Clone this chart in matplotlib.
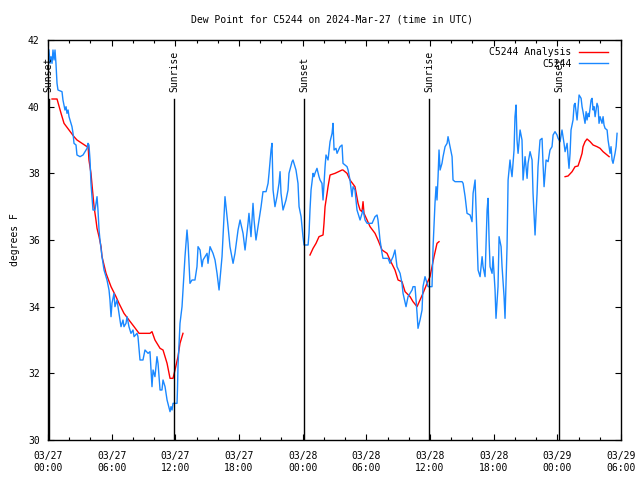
import matplotlib
matplotlib.use("Agg")
import matplotlib.pyplot as plt
from matplotlib.ticker import MultipleLocator

plt.rcParams['font.family'] = ['DejaVu Sans Mono']

# hours since 2024-03-27 00:00 UTC
obs_hours = [0.09, 0.19, 0.28, 0.38, 0.47, 0.57, 0.66, 0.75, 0.85, 0.94, 1.32, 1.41, 1.60, 1.70, 1.79,
             1.89, 1.98, 2.17, 2.26, 2.36, 2.45, 2.64, 2.73, 3.02, 3.30, 3.49, 3.68, 3.77, 3.86, 3.96,
             4.05, 4.15, 4.24, 4.43, 4.62, 4.71, 4.81, 4.90, 5.09, 5.28, 5.56, 5.75, 5.84, 5.94, 6.03,
             6.22, 6.31, 6.50, 6.69, 6.88, 7.07, 7.16, 7.35, 7.45, 7.63, 7.82, 8.01, 8.11, 8.39, 8.48,
             8.67, 8.95, 9.14, 9.43, 9.61, 9.80, 9.90, 10.08, 10.27, 10.37, 10.56, 10.74, 10.84, 11.03,
             11.22, 11.50, 11.59, 11.69, 11.78, 12.16, 12.20, 12.25, 12.44, 12.63, 12.72, 12.91, 13.10,
             13.20, 13.38, 13.57, 13.85, 14.04, 14.14, 14.33, 14.51, 14.61, 14.80, 14.99, 15.08, 15.27,
             15.55, 15.74, 15.93, 16.12, 16.40, 16.49, 16.68, 16.78, 16.97, 17.15, 17.44, 17.62, 17.91,
             18.10, 18.38, 18.57, 18.85, 18.94, 19.13, 19.32, 19.42, 19.60, 19.79, 20.08, 20.26, 20.55,
             20.74, 20.83, 21.02, 21.11, 21.21, 21.39, 21.58, 21.77, 21.87, 21.96, 22.15, 22.43, 22.62,
             22.71, 23.00, 23.09, 23.37, 23.56, 23.66, 23.85, 24.03, 24.13, 24.51, 24.60, 24.69, 24.79,
             24.98, 25.07, 25.16, 25.35, 25.54, 25.64, 25.82, 25.92, 26.11, 26.20, 26.39, 26.58, 26.77,
             26.86, 26.96, 27.14, 27.24, 27.52, 27.71, 27.80, 28.18, 28.28, 28.46, 28.65, 28.75, 28.93,
             29.12, 29.41, 29.59, 29.69, 29.88, 30.07, 30.54, 30.82, 31.01, 31.10, 31.29, 31.48, 31.57,
             32.05, 32.23, 32.52, 32.70, 32.89, 33.18, 33.36, 33.46, 33.74, 33.93, 34.31, 34.40, 34.59,
             34.78, 34.87, 35.06, 35.25, 35.34, 35.53, 35.72, 35.82, 36.19, 36.29, 36.47, 36.57, 36.66,
             36.76, 36.85, 36.95, 37.13, 37.23, 37.42, 37.61, 37.70, 37.89, 38.08, 38.17, 38.36, 39.02,
             39.12, 39.31, 39.49, 39.78, 39.96, 40.06, 40.25, 40.44, 40.53, 40.72, 40.91, 41.00, 41.19,
             41.38, 41.47, 41.57, 41.66, 41.85, 41.94, 42.13, 42.22, 42.41, 42.51, 42.70, 42.79, 42.98,
             43.07, 43.26, 43.36, 43.54, 43.64, 43.73, 43.92, 44.01, 44.11, 44.20, 44.30, 44.49, 44.67,
             44.77, 44.96, 45.15, 45.24, 45.43, 45.62, 45.71, 45.90, 46.09, 46.18, 46.37, 46.56, 46.65,
             46.75, 46.94, 47.13, 47.31, 47.50, 47.60, 47.78, 47.97, 48.07, 48.26, 48.44, 48.54, 48.63,
             48.73, 48.92, 49.01, 49.10, 49.20, 49.29, 49.48, 49.58, 49.67, 49.86, 49.95, 50.05, 50.24,
             50.33, 50.42, 50.61, 50.71, 50.80, 50.90, 50.99, 51.18, 51.27, 51.37, 51.46, 51.56, 51.74,
             51.84, 51.93, 52.03, 52.21, 52.31, 52.40, 52.50, 52.69, 52.78, 52.97, 53.06, 53.16, 53.25,
             53.44, 53.54, 53.63]
obs_dewpt = [41.7, 41.3, 41.5, 41.3, 41.7, 41.4, 41.7, 41.3, 40.7, 40.5, 40.45, 40.2, 39.9, 40.0, 39.8,
             39.9, 39.7, 39.5, 39.4, 39.2, 38.9, 38.85, 38.55, 38.5, 38.55, 38.65, 38.75, 38.9, 38.85, 38.4,
             37.7, 37.3, 36.9, 36.9, 37.3, 36.9, 36.3, 36.0, 35.5, 35.1, 34.8, 34.5, 34.2, 33.7, 34.1,
             34.4, 34.0, 34.2, 33.8, 33.4, 33.6, 33.4, 33.5, 33.7, 33.4, 33.2, 33.3, 33.1, 33.2, 33.1,
             32.4, 32.4, 32.7, 32.6, 32.65, 31.6, 32.1, 31.9, 32.5, 32.3, 31.5, 31.5, 31.8, 31.6,
             31.2, 30.85, 31.0, 30.9, 31.1, 31.1, 31.5, 32.2, 33.5, 34.0, 34.5, 35.5, 36.3,
             35.9, 34.7, 34.8, 34.8, 35.2, 35.8, 35.7, 35.2, 35.4, 35.5, 35.6, 35.3, 35.8,
             35.6, 35.4, 35.0, 34.5, 35.5, 36.1, 37.3, 37.0, 36.4, 35.8, 35.3, 35.6, 36.3,
             36.6, 36.2, 35.7, 36.5, 36.8, 36.1, 37.1, 36.6, 36.0, 36.4, 37.0, 37.45, 37.45,
             37.7, 38.0, 38.7, 38.9, 37.5, 37.0, 37.3, 37.7, 38.05, 37.4, 36.9, 37.2, 37.5,
             38.0, 38.35, 38.4, 38.1, 37.7, 37.0, 36.7, 36.1, 35.85, 35.85, 36.2, 36.9, 37.5,
             38.0, 37.9, 38.0, 38.15, 37.9, 37.8, 37.7, 37.2, 38.2, 38.55, 38.4, 38.95, 39.2,
             39.5, 38.7, 38.75, 38.6, 38.8, 38.85, 38.3, 38.2, 38.1, 37.8, 37.3, 37.6, 37.5,
             36.9, 36.6, 36.8, 36.9, 36.6, 36.5, 36.5, 36.7, 36.75, 36.6, 36.0, 35.6, 35.45,
             35.45, 35.3, 35.5, 35.7, 35.2, 35.0, 34.7, 34.4, 34.0, 34.3, 34.5, 34.6, 34.6,
             33.8, 33.35, 33.6, 33.9, 34.6, 34.9, 34.7, 34.6, 34.6, 35.8, 37.1, 37.6, 37.2,
             37.9, 38.7, 38.1, 38.3, 38.5, 38.8, 38.9, 39.1, 38.8, 38.5, 37.8, 37.75, 37.75,
             37.7, 37.3, 36.8, 36.75, 36.55, 37.4, 37.8, 35.9, 35.1, 34.9, 35.5, 35.2, 34.9,
             36.9, 37.25, 36.0, 35.2, 35.0, 35.5, 34.5, 33.65, 34.6, 36.1, 35.8, 35.2, 34.3,
             33.65, 35.8, 37.8, 38.4, 38.1, 37.9, 38.7, 39.7, 40.05, 39.0, 38.6, 39.3, 39.0,
             37.8, 38.5, 37.85, 38.3, 38.65, 38.4, 37.4, 36.15, 37.4, 38.2, 39.0, 39.05, 38.3,
             37.6, 38.4, 38.35, 38.7, 38.8, 39.15, 39.25, 39.15, 39.05, 38.95, 39.3, 39.1, 38.9,
             38.65, 38.9, 38.5, 38.15, 38.6, 39.3, 39.6, 40.05, 40.1, 39.6, 39.95, 40.35, 40.25,
             40.0, 39.85, 39.5, 39.85, 39.6, 39.8, 39.7, 40.2, 40.25, 39.9, 40.0, 39.7, 40.1,
             40.0, 39.5, 39.7, 39.5, 39.7, 39.45, 39.35, 39.3, 39.0, 38.6, 38.8, 38.4, 38.3,
             38.6, 38.8, 39.2]

# analysis segments (gaps between)
ana1_hours = [0.38, 0.85, 1.23, 1.51, 1.98, 2.45, 2.73, 3.68, 3.77, 3.86, 4.05, 4.15, 4.34, 4.52, 4.62,
              4.81, 5.00, 5.09, 5.47, 5.94, 6.41, 6.69, 7.16, 7.63, 8.11, 8.58, 9.61, 9.80, 10.08,
              10.56, 10.84, 11.22, 11.50, 11.78, 11.97, 12.25, 12.44, 12.72]
ana1_dewpt = [40.23, 40.23, 39.8, 39.5, 39.3, 39.1, 39.0, 38.8, 38.85, 38.4, 38.0, 37.65, 37.0, 36.6, 36.35,
              36.1, 35.8, 35.5, 35.0, 34.6, 34.3, 34.1, 33.8, 33.6, 33.4, 33.2, 33.2, 33.25, 33.0,
              32.75, 32.7, 32.3, 31.85, 31.85, 32.1, 32.5, 32.9, 33.2]
ana2_hours = [24.69, 24.98, 25.26, 25.54, 25.92, 26.01, 26.11, 26.30, 26.39, 26.58, 27.05, 27.71, 27.80,
              28.18, 28.46, 28.93, 29.22, 29.41, 29.59, 29.69, 29.78, 30.07, 30.35, 30.82, 31.10, 31.48,
              31.95, 32.23, 32.70, 32.99, 33.36, 33.65, 34.12, 34.40, 34.78, 35.06, 35.34, 35.72, 36.00,
              36.19, 36.38, 36.66, 36.85]
ana2_dewpt = [35.55, 35.75, 35.9, 36.1, 36.15, 36.5, 37.0, 37.4, 37.6, 37.95, 38.0, 38.1, 38.1,
              38.0, 37.8, 37.6, 37.1, 36.9, 36.85, 37.15, 36.8, 36.6, 36.4, 36.2, 36.0, 35.7,
              35.6, 35.4, 35.1, 34.8, 34.75, 34.45, 34.3, 34.15, 34.0, 34.2, 34.4, 34.7, 34.9,
              35.2, 35.5, 35.9, 35.95]
ana3_hours = [48.73, 49.01, 49.39, 49.67, 49.95, 50.14, 50.33, 50.42, 50.61, 50.80, 51.09, 51.37, 51.74,
              52.03, 52.31, 52.69, 52.88]
ana3_dewpt = [37.9, 37.92, 38.05, 38.2, 38.22, 38.4, 38.6, 38.8, 38.95, 39.03, 38.95, 38.85, 38.8,
              38.75, 38.65, 38.55, 38.5]

sun_hours = [0.08, 11.88, 24.13, 35.9, 48.16]
sun_labels = ["Sunset", "Sunrise", "Sunset", "Sunrise", "Sunset"]

xtick_hours = [0, 6, 12, 18, 24, 30, 36, 42, 48, 54]
xtick_labels = ["03/27\n00:00", "03/27\n06:00", "03/27\n12:00", "03/27\n18:00", "03/28\n00:00",
                "03/28\n06:00", "03/28\n12:00", "03/28\n18:00", "03/29\n00:00", "03/29\n06:00"]
ytick_vals = [30, 32, 34, 36, 38, 40, 42]

RED = '#ff0000'
BLUE = '#1a88ff'
FS = 7

fig = plt.figure(figsize=(6.4, 4.8), dpi=100)
ax = fig.add_axes([48/640, 40/480, 573/640, 400/480])
ax.set_xlim(0, 54)
ax.set_ylim(30, 42)

ax.plot(ana1_hours, ana1_dewpt, color=RED, lw=1, label="C5244 Analysis")
ax.plot(ana2_hours, ana2_dewpt, color=RED, lw=1)
ax.plot(ana3_hours, ana3_dewpt, color=RED, lw=1)
ax.plot(obs_hours, obs_dewpt, color=BLUE, lw=1, label="C5244")

for h, lab in zip(sun_hours, sun_labels):
    ax.plot([h, h], [30, 40.22], color='black', lw=1)
    ax.text(h, 40.45, lab, rotation=90, ha='center', va='bottom', fontsize=FS, color='black')

ax.set_xticks(xtick_hours)
ax.set_xticklabels(xtick_labels, fontsize=FS)
ax.xaxis.set_minor_locator(MultipleLocator(2))
ax.set_yticks(ytick_vals)
ax.set_yticklabels([str(v) for v in ytick_vals], fontsize=FS)
ax.tick_params(axis='both', which='both', direction='in', top=True, right=True, width=0.8)
ax.tick_params(axis='both', which='major', length=4, pad=6)
ax.tick_params(axis='x', which='major', pad=8)
ax.tick_params(axis='x', which='minor', length=2.5)
for sp in ax.spines.values():
    sp.set_linewidth(1)

ax.set_ylabel("degrees F", fontsize=FS, labelpad=6)
fig.text(332/640, 1 - 19/480, "Dew Point for C5244 on 2024-Mar-27 (time in UTC)",
         ha='center', va='center', fontsize=FS)

leg = ax.legend(loc='upper right', bbox_to_anchor=(0.978, 0.982), markerfirst=False,
                frameon=False, fontsize=FS, handlelength=3.0, handletextpad=0.8,
                labelspacing=0.15, borderpad=0, borderaxespad=0)

fig.savefig("out.png", dpi=100)
